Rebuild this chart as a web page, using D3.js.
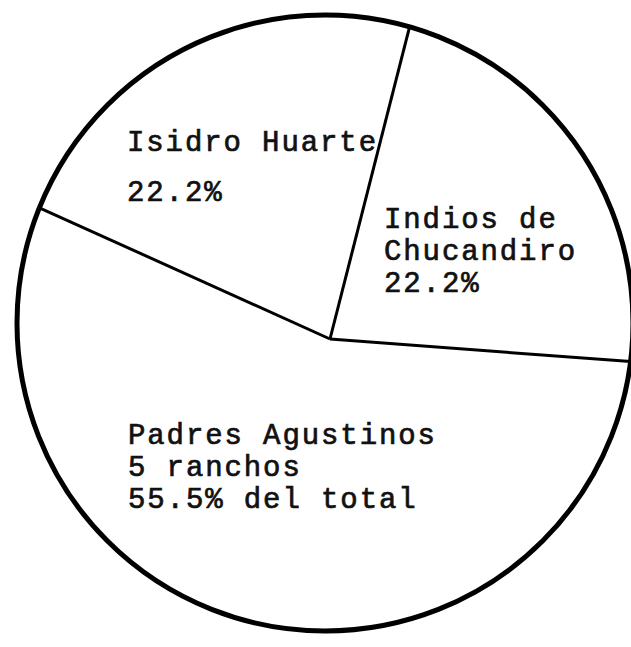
<!DOCTYPE html>
<html>
<head>
<meta charset="utf-8">
<script src="https://cdn.jsdelivr.net/npm/d3@7"></script>
<style>
  body { margin: 0; background: #fff; }
  text { font-family: "Liberation Mono", "DejaVu Sans Mono", monospace; fill: #111; stroke: #111; stroke-width: 0.7px; }
</style>
</head>
<body>
<svg width="631" height="647"></svg>
<script>
// shares of the 9 ranchos by owner (clockwise from the top spoke)
const owners = ["Indios de Chucandiro", "Padres Agustinos", "Isidro Huarte"];
const shares = [22.2, 55.5, 22.2];
const labelLines = [
  ["Indios de", "Chucandiro", "22.2%"],
  ["Padres Agustinos", "5 ranchos", "55.5% del total"],
  ["Isidro Huarte", "22.2%"]
];

const svg = d3.select("svg");

// hand drawn: the spokes meet a bit below the circle's centre
const cx = 325, cy = 323, R = 308;
const hub = { x: 330, y: 339 };

const pie = d3.pie()
  .sort(null)
  .startAngle(14.3 * Math.PI / 180)
  .endAngle(14.3 * Math.PI / 180 + 2 * Math.PI);
const arcs = pie(shares);

// outline
svg.append("circle")
  .attr("cx", cx)
  .attr("cy", cy)
  .attr("r", R)
  .attr("fill", "none")
  .attr("stroke", "#000")
  .attr("stroke-width", 5);

// point where a ray from the hub leaves the circle
function rim(a) {
  const dx = Math.sin(a), dy = -Math.cos(a);
  const wx = hub.x - cx, wy = hub.y - cy;
  const b = wx * dx + wy * dy;
  const t = -b + Math.sqrt(b * b - (wx * wx + wy * wy - R * R));
  return [hub.x + t * dx, hub.y + t * dy];
}

svg.selectAll(".spoke")
  .data(arcs)
  .enter()
  .append("line")
  .attr("class", "spoke")
  .attr("x1", hub.x)
  .attr("y1", hub.y)
  .attr("x2", d => rim(d.startAngle)[0])
  .attr("y2", d => rim(d.startAngle)[1])
  .attr("stroke", "#000")
  .attr("stroke-width", 3);

// label spots, typed by hand like the original
const labelPos = [
  { x: 384, y: 228, step: 32 },
  { x: 128, y: 444, step: 32 },
  { x: 127, y: 151, step: 50 }
];

const labels = svg.selectAll(".lbl")
  .data(arcs)
  .enter()
  .append("text")
  .attr("class", "lbl")
  .attr("x", (d, i) => labelPos[i].x)
  .attr("y", (d, i) => labelPos[i].y)
  .style("font-size", "29px")
  .style("letter-spacing", "1.9px");

labels.selectAll("tspan")
  .data((d, i) => labelLines[i].map(s => ({ s, i })))
  .enter()
  .append("tspan")
  .attr("x", d => labelPos[d.i].x)
  .attr("dy", (d, j) => j === 0 ? 0 : labelPos[d.i].step)
  .text(d => d.s);
</script>
</body>
</html>
